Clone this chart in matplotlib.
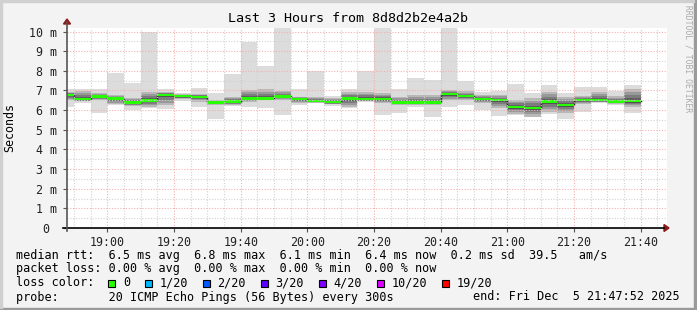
import numpy as np
import matplotlib.pyplot as plt
from matplotlib.patches import Rectangle, Polygon
from matplotlib.lines import Line2D

# 5 minute bins (start time), smoke range and median rtt in ms
bin_start = ["18:45", "18:50", "18:55", "19:00", "19:05", "19:10", "19:15",
             "19:20", "19:25", "19:30", "19:35", "19:40", "19:45", "19:50",
             "19:55", "20:00", "20:05", "20:10", "20:15", "20:20", "20:25",
             "20:30", "20:35", "20:40", "20:45", "20:50", "20:55", "21:00",
             "21:05", "21:10", "21:15", "21:20", "21:25", "21:30", "21:35"]
rtt_min = [6.17, 6.35, 5.87, 6.26, 6.00, 6.09, 6.06, 6.44, 6.17, 5.55, 6.20, 6.18,
           6.09, 5.75, 6.24, 6.38, 6.23, 6.09, 6.43, 5.75, 5.87, 6.14, 5.67, 6.14,
           6.26, 6.00, 5.70, 5.75, 5.63, 5.80, 5.56, 5.92, 6.35, 6.25, 5.87]
rtt_q1 = [6.51, 6.45, 6.50, 6.30, 6.20, 6.17, 6.26, 6.55, 6.43, 6.26, 6.26, 6.43,
          6.51, 6.51, 6.35, 6.43, 6.30, 6.17, 6.45, 6.35, 6.26, 6.26, 6.26, 6.51,
          6.50, 6.35, 6.09, 5.80, 5.67, 5.92, 5.84, 6.30, 6.40, 6.35, 6.17]
rtt_median = [6.77, 6.57, 6.69, 6.59, 6.38, 6.49, 6.77, 6.72, 6.68, 6.39, 6.43, 6.60,
              6.60, 6.70, 6.58, 6.48, 6.40, 6.59, 6.57, 6.58, 6.39, 6.39, 6.39, 6.82,
              6.72, 6.58, 6.50, 6.17, 6.11, 6.43, 6.26, 6.50, 6.50, 6.43, 6.45]
rtt_q3 = [6.93, 6.95, 6.85, 6.78, 6.60, 6.93, 6.93, 6.82, 6.82, 6.51, 6.68, 7.02,
          7.05, 6.98, 6.68, 6.68, 6.60, 6.93, 6.93, 6.85, 6.68, 6.77, 6.77, 7.02,
          6.95, 6.77, 6.77, 6.51, 6.60, 6.93, 6.68, 6.70, 6.90, 6.70, 7.10]
rtt_max = [7.06, 7.06, 7.06, 7.90, 7.36, 9.98, 7.06, 6.88, 7.12, 6.88, 7.84, 9.47,
           8.26, 10.40, 7.06, 8.00, 6.72, 7.10, 7.97, 10.40, 7.05, 7.66, 7.53, 10.40,
           7.49, 6.90, 6.99, 7.33, 6.85, 7.27, 6.85, 7.16, 7.16, 6.99, 7.27]

tick_labels = ["19:00", "19:20", "19:40", "20:00", "20:20", "20:40", "21:00", "21:20", "21:40"]

loss_labels = ["0", "1/20", "2/20", "3/20", "4/20", "10/20", "19/20"]
loss_colors = ["#26ff00", "#00b8ff", "#0059ff", "#5e00ff", "#7e00ff", "#dd00ff", "#ff0000"]

legend_lines = [
    "median rtt:  6.5 ms avg  6.8 ms max  6.1 ms min  6.4 ms now  0.2 ms sd  39.5   am/s",
    "packet loss: 0.00 % avg  0.00 % max  0.00 % min  0.00 % now",
]
probe_text = "probe:       20 ICMP Echo Pings (56 Bytes) every 300s"
end_text = "end: Fri Dec  5 21:47:52 2025"


def to_min(s):
    h, m = s.split(":")
    return (int(h) - 18) * 60 + int(m)


W, H = 697, 310
MONO = "DejaVu Sans Mono"
plt.rcParams["font.family"] = MONO

fig = plt.figure(figsize=(W / 100, H / 100), dpi=100)
fig.patch.set_facecolor("#f3f3f3")


def fx(x):
    return x / W


def fy(y):
    return 1 - y / H


# plot area in pixels
L, R, T, B = 67, 667, 28, 228
ax = fig.add_axes([fx(L), fy(B), (R - L) / W, (B - T) / H])
ax.set_facecolor("white")

x0 = np.array([to_min(s) for s in bin_start], dtype=float)
lo = np.array(rtt_min)
q1 = np.array(rtt_q1)
med = np.array(rtt_median)
q3 = np.array(rtt_q3)
hi = np.array(rtt_max)

# smoke
ax.bar(x0, hi - lo, bottom=lo, width=5, align="edge", color="#dcdcdc", linewidth=0, zorder=2)
ax.bar(x0, q3 - q1, bottom=q1, width=5, align="edge", color="#b8b8b8", linewidth=0, zorder=2)
shades = ["#999999", "#7c7c7c", "#5f5f5f"]
for k, c in enumerate(shades):
    f = (k + 1) / 4.0
    b_lo = q1 + (med - q1) * f
    b_hi = q3 - (q3 - med) * f
    ax.bar(x0, b_hi - b_lo, bottom=b_lo, width=5, align="edge", color=c, linewidth=0, zorder=2)

# median: dark step with green band
xs = np.append(x0, x0[-1] + 5)
ax.step(xs, np.append(med, med[-1]), where="post", color="#202020", lw=1.0, zorder=3)
ax.bar(x0, 0.12, bottom=med - 0.06, width=5, align="edge", color="#26ff00", linewidth=0, zorder=4)

ax.set_xlim(47 + 52 / 60, 227 + 52 / 60)
ax.set_ylim(0, 10.18)

# grid (drawn over the smoke, like rrdtool)
dot = (0, (1, 1.5))
for m in range(50, 228, 5):
    col = "#f4b0b0" if m % 20 == 0 else "#d2d2d2"
    ax.axvline(m, color=col, lw=0.8, ls=dot, zorder=5)
for v in np.arange(0.5, 10.1, 0.5):
    col = "#f4b0b0" if v % 1 == 0 else "#d2d2d2"
    ax.axhline(v, color=col, lw=0.8, ls=dot, zorder=5)

for s in ax.spines.values():
    s.set_visible(False)

major_x = [to_min(s) for s in tick_labels]
ax.set_xticks(major_x)
ax.set_xticklabels(tick_labels, fontsize=8.4, color="#222222")
ax.set_yticks(range(0, 11))
ax.set_yticklabels(["0 "] + [f"{i} m" for i in range(1, 11)], fontsize=8.4, color="#222222")
ax.tick_params(axis="both", direction="out", length=3, width=0.8, color="#555555", pad=3)
ax.tick_params(axis="y", pad=4)

# axis lines and arrows
fig.add_artist(Line2D([fx(63), fx(664)], [fy(B), fy(B)], color="black", lw=1.2))
fig.add_artist(Line2D([fx(L), fx(L)], [fy(B + 3), fy(22)], color="#555555", lw=1.2))
fig.add_artist(Polygon([[fx(664), fy(B - 3.5)], [fx(669), fy(B)], [fx(664), fy(B + 3.5)]],
                       closed=True, color="#8b1a1a"))
fig.add_artist(Polygon([[fx(L - 3.5), fy(24)], [fx(L), fy(19)], [fx(L + 3.5), fy(24)]],
                       closed=True, color="#8b1a1a"))

# titles
fig.text(fx(348), fy(19), "Last 3 Hours from 8d8d2b2e4a2b", ha="center", va="center",
         fontsize=9.6, color="black")
fig.text(fx(10), fy(127), "Seconds", rotation=90, ha="center", va="center",
         fontsize=8.4, color="black")
fig.text(fx(688), fy(5), "RRDTOOL / TOBI OETIKER", rotation=270, ha="center", va="top",
         fontsize=5.8, color="#aaaaaa")

# legend
fs = 8.5
cw = 7.11
fig.text(fx(16), fy(255), legend_lines[0], ha="left", va="center", fontsize=fs)
fig.text(fx(16), fy(268.5), legend_lines[1], ha="left", va="center", fontsize=fs)
fig.text(fx(16), fy(283), "loss color:", ha="left", va="center", fontsize=fs)
xpos = 16 + 13 * cw
for lab, c in zip(loss_labels, loss_colors):
    fig.add_artist(Rectangle((fx(xpos), fy(286.5)), 7 / W, 7 / H, facecolor=c,
                             edgecolor="black", lw=0.8))
    fig.text(fx(xpos + 14.5), fy(283), lab, ha="left", va="center", fontsize=fs)
    xpos += 14.5 + len(lab) * cw + 15
fig.text(fx(16), fy(297), probe_text, ha="left", va="center", fontsize=fs)
fig.text(fx(680), fy(297), end_text, ha="right", va="center", fontsize=fs)

# frame
fig.add_artist(Rectangle((0, 0), 1, 2 / H, color="#9a9a9a"))
fig.add_artist(Rectangle((1 - 3 / W, 0), 3 / W, 1, color="#9a9a9a"))
fig.add_artist(Rectangle((0, 1 - 2 / H), 1 - 3 / W, 2 / H, color="#d0d0d0"))
fig.add_artist(Rectangle((0, 2 / H), 2 / W, 1 - 4 / H, color="#d0d0d0"))

fig.savefig("out.png", dpi=100, facecolor=fig.get_facecolor())
